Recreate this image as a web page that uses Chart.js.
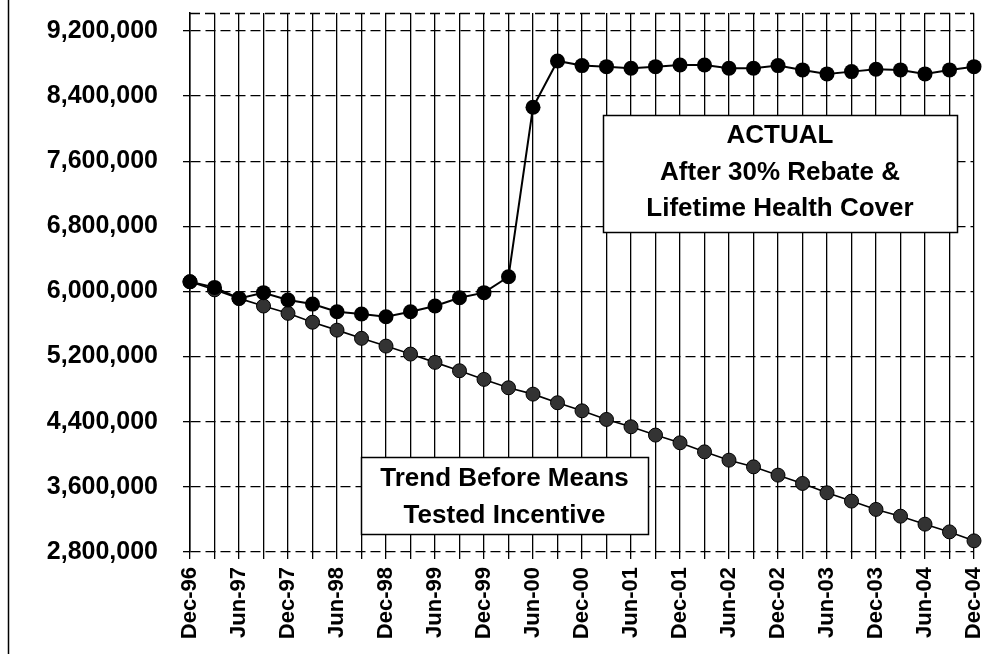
<!DOCTYPE html>
<html><head><meta charset="utf-8">
<script src="https://cdn.jsdelivr.net/npm/chart.js@4"></script>
<style>html,body{margin:0;padding:0;background:#fff}#wrap{width:989px;height:654px;position:relative}</style>
</head><body><div id="wrap"><canvas id="c"></canvas></div>
<script>
const quarters = ["Dec-96","Mar-97","Jun-97","Sep-97","Dec-97","Mar-98","Jun-98","Sep-98","Dec-98","Mar-99","Jun-99","Sep-99","Dec-99","Mar-00","Jun-00","Sep-00","Dec-00","Mar-01","Jun-01","Sep-01","Dec-01","Mar-02","Jun-02","Sep-02","Dec-02","Mar-03","Jun-03","Sep-03","Dec-03","Mar-04","Jun-04","Sep-04","Dec-04"];
const actualMembers = [6120000,6050000,5915000,5985000,5895000,5845000,5751000,5723000,5690000,5751000,5821000,5923000,5985000,6181000,8262000,8831000,8774000,8761000,8742000,8761000,8782000,8782000,8742000,8742000,8774000,8721000,8672000,8700000,8729000,8721000,8672000,8721000,8761000];
const trendMembers = [6120000,6020000,5915000,5821000,5731000,5622000,5525000,5424000,5329000,5231000,5129000,5026000,4920000,4817000,4739000,4633000,4534000,4428000,4338000,4236000,4141000,4030000,3928000,3846000,3744000,3642000,3527000,3425000,3323000,3240000,3142000,3047000,2937000];
const yTickValues = [2800000,3600000,4400000,5200000,6000000,6800000,7600000,8400000,9200000];
const actualNote = ["ACTUAL","After 30% Rebate &","Lifetime Health Cover"];
const trendNote = ["Trend Before Means","Tested Incentive"];

const FONT = "'Liberation Sans', Arial, sans-serif";

const decor = {
  id: 'decor',
  afterDraw(chart) {
    const ctx = chart.ctx, a = chart.chartArea;
    ctx.save();
    ctx.strokeStyle = '#000'; ctx.lineWidth = 1.5;
    ctx.beginPath(); ctx.moveTo(8.5, 0); ctx.lineTo(8.5, 654); ctx.stroke();
    ctx.lineWidth = 1.3; ctx.setLineDash([10,5]);
    ctx.beginPath(); ctx.moveTo(a.left, a.top + 0.5); ctx.lineTo(a.right, a.top + 0.5); ctx.stroke();
    ctx.setLineDash([]);
    function box(x, y, w, h, lines, ys) {
      ctx.fillStyle = '#fff';
      ctx.fillRect(x, y, w, h);
      ctx.strokeStyle = '#000'; ctx.lineWidth = 1.5;
      ctx.strokeRect(x + 0.5, y + 0.5, w, h);
      ctx.fillStyle = '#000';
      ctx.font = "bold 26px " + FONT;
      ctx.textAlign = 'center'; ctx.textBaseline = 'middle';
      lines.forEach((t, i) => ctx.fillText(t, x + w / 2, ys[i]));
    }
    box(603, 115, 354, 117, actualNote, [136, 173, 209]);
    box(361, 457, 287, 77, trendNote, [479, 516]);
    ctx.restore();
  }
};

new Chart(document.getElementById('c'), {
  type: 'line',
  data: {
    labels: quarters,
    datasets: [
      { label: 'Actual', data: actualMembers, borderColor: '#000', borderWidth: 2,
        pointRadius: 7.5, pointBackgroundColor: '#000', pointBorderColor: '#000', pointBorderWidth: 0,
        tension: 0, clip: false },
      { label: 'Trend', data: trendMembers, borderColor: '#000', borderWidth: 1.6,
        pointRadius: 7, pointBackgroundColor: '#333', pointBorderColor: '#000', pointBorderWidth: 1,
        tension: 0, clip: false }
    ]
  },
  options: {
    responsive: true, maintainAspectRatio: false, animation: false, devicePixelRatio: 1,
    layout: { padding: { top: 13, right: 15, bottom: 0, left: 0 } },
    plugins: { legend: { display: false }, tooltip: { enabled: false } },
    scales: {
      x: {
        grid: { color: '#000', lineWidth: 1.3, tickLength: 7, tickColor: '#000', tickWidth: 1.3 },
        border: { display: false },
        ticks: { autoSkip: false, minRotation: 90, maxRotation: 90, padding: 8, color: '#000',
          font: { family: FONT, size: 22, weight: 'bold' },
          callback: (v, i) => (i % 2 === 0 ? quarters[i] : '') },
        afterFit: s => { s.height = 102; s.paddingLeft = 0; s.paddingRight = 0; }
      },
      y: {
        min: 2800000, max: 9420000,
        afterBuildTicks: s => { s.ticks = yTickValues.map(v => ({ value: v })); },
        grid: { color: '#000', lineWidth: 1.3, tickLength: 7, tickColor: '#000', tickWidth: 1.3, tickBorderDash: [] },
        border: { display: true, color: '#000', width: 1.5, dash: [10, 5] },
        ticks: { padding: 25, color: '#000', font: { family: FONT, size: 25, weight: 'bold' },
          callback: v => Number(v).toLocaleString('en-US') },
        afterFit: s => { s.width = 190; s.paddingTop = 0; s.paddingBottom = 0; }
      }
    }
  },
  plugins: [decor]
});
</script></body></html>
